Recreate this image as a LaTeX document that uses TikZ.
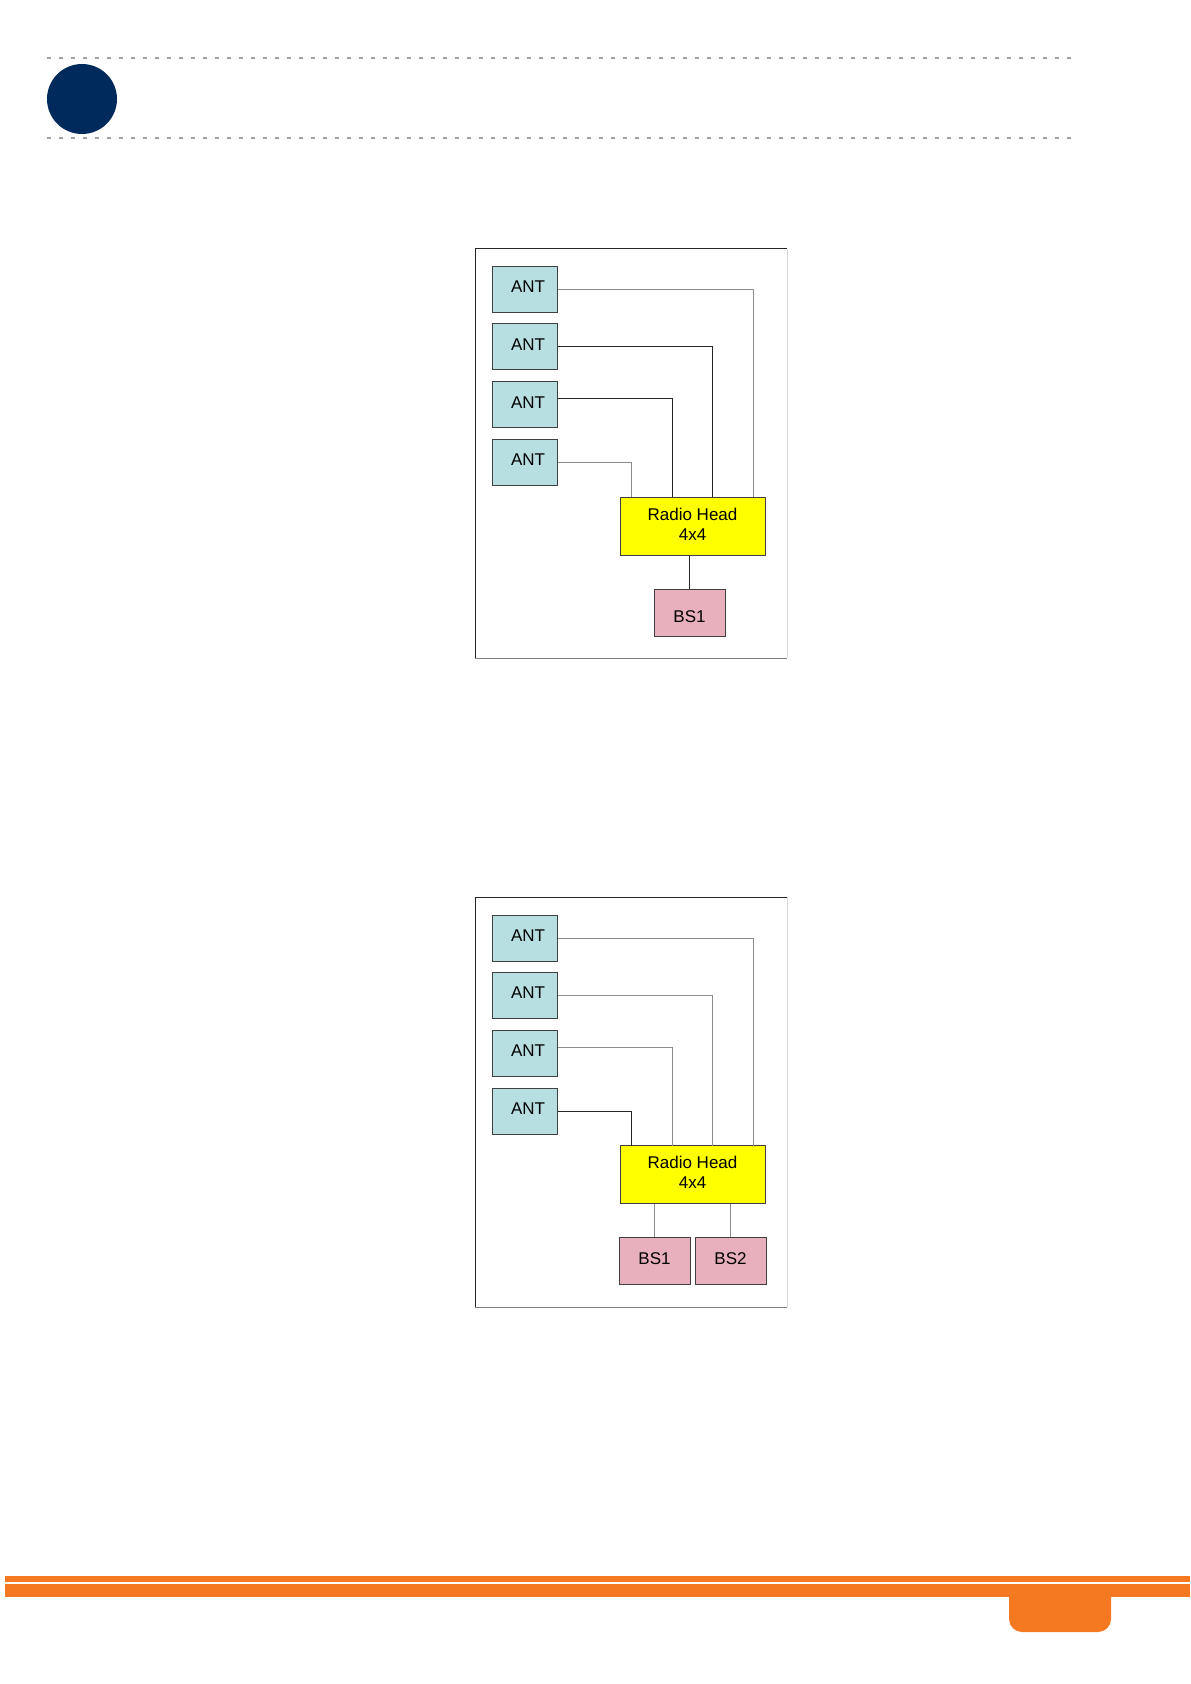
\documentclass[tikz,border=0pt]{standalone}
\usepackage{fontspec}
\setmainfont{Liberation Sans}
\usetikzlibrary{positioning}

\definecolor{antcol}{RGB}{183,222,224}
\definecolor{headcol}{RGB}{255,255,0}
\definecolor{bscol}{RGB}{232,176,188}
\definecolor{navy}{RGB}{0,42,92}
\definecolor{pageorange}{RGB}{244,121,32}
\definecolor{dotgray}{RGB}{160,160,160}

\tikzset{
  box/.style={draw=black!75,line width=0.5pt,inner sep=0pt,align=center,
    font=\fontsize{8.5}{10}\selectfont},
  antbox/.style={box,fill=antcol,minimum width=32.5pt,minimum height=23pt,
    text depth=2.5pt},
  headbox/.style={box,fill=headcol,minimum width=72.5pt,minimum height=29pt,
    text depth=2pt},
  bsbox/.style={box,fill=bscol,minimum width=35.5pt,minimum height=23.5pt,
    text height=9.6pt,text depth=0pt},
  bsboxb/.style={bsbox,text height=6.1pt,text depth=3pt},
  wire/.style={line width=0.5pt,black!45},
  darkwire/.style={line width=0.5pt,black!85},
}

\begin{document}
\begin{tikzpicture}[x=0.5pt,y=-0.5pt]
  \useasboundingbox (0,0) rectangle (1190,1684);
  % header
  \draw[dotgray,line width=0.6pt,dash pattern=on 2pt off 4pt] (47,58) -- (1077,58);
  \draw[dotgray,line width=0.6pt,dash pattern=on 2pt off 4pt] (47,138) -- (1077,138);
  \fill[navy] (82,99) circle (17.5pt);

  % first diagram
  \draw[black!85,line width=0.5pt] (475,658) -- (475,249) -- (787,249);
  \draw[black!15,line width=0.5pt] (787,249) -- (787,658);
  \draw[black!50,line width=0.5pt] (475,658) -- (787,658);
  \node[antbox] (a1) at (524.5,289.5) {\hspace*{3.5pt}ANT};
  \node[antbox] (a2) at (524.5,347) {\hspace*{3.5pt}ANT};
  \node[antbox] (a3) at (524.5,405) {\hspace*{3.5pt}ANT};
  \node[antbox] (a4) at (524.5,462.5) {\hspace*{3.5pt}ANT};
  \node[headbox] (rh) at (692.5,526) {Radio Head\\4x4};
  \node[bsbox] (bs1) at (689.5,612.5) {BS1};
  \coordinate (rh1) at (753,497);
  \coordinate (rh2) at (712,497);
  \coordinate (rh3) at (672,497);
  \coordinate (rh4) at (631,497);
  \draw[wire] (a1.east) -| (rh1);
  \draw[darkwire] (a2.east) -| (rh2);
  \draw[darkwire] ([yshift=3pt]a3.east) -| (rh3);
  \draw[wire] (a4.east) -| (rh4);
  \draw[darkwire] (rh.south -| bs1.north) -- (bs1.north);

  % second diagram
  \draw[black!85,line width=0.5pt] (475,1307) -- (475,897) -- (787,897);
  \draw[black!15,line width=0.5pt] (787,897) -- (787,1307);
  \draw[black!50,line width=0.5pt] (475,1307) -- (787,1307);
  \node[antbox] (b1) at (524.5,938) {\hspace*{3.5pt}ANT};
  \node[antbox] (b2) at (524.5,995.5) {\hspace*{3.5pt}ANT};
  \node[antbox] (b3) at (524.5,1053) {\hspace*{3.5pt}ANT};
  \node[antbox] (b4) at (524.5,1111) {\hspace*{3.5pt}ANT};
  \node[headbox] (rhb) at (692.5,1174.5) {Radio Head\\4x4};
  \node[bsboxb] (bs21) at (654.5,1261) {BS1};
  \node[bsboxb] (bs22) at (730.5,1261) {BS2};
  \coordinate (rhb1) at (753,1146);
  \coordinate (rhb2) at (712,1146);
  \coordinate (rhb3) at (672,1146);
  \coordinate (rhb4) at (631,1146);
  \draw[wire] (b1.east) -| (rhb1);
  \draw[wire] (b2.east) -| (rhb2);
  \draw[wire] ([yshift=3pt]b3.east) -| (rhb3);
  \draw[darkwire] (b4.east) -| (rhb4);
  \draw[wire] (rhb.south -| bs21.north) -- (bs21.north);
  \draw[wire] (rhb.south -| bs22.north) -- (bs22.north);

  % footer
  \fill[pageorange] (4.5,1576) rectangle (1190,1582);
  \fill[pageorange] (4.5,1584) rectangle (1190,1597);
  \fill[pageorange,rounded corners=6.5pt] (1009,1584) -- (1009,1632) -- (1111,1632) -- (1111,1584) -- cycle;
\end{tikzpicture}
\end{document}
